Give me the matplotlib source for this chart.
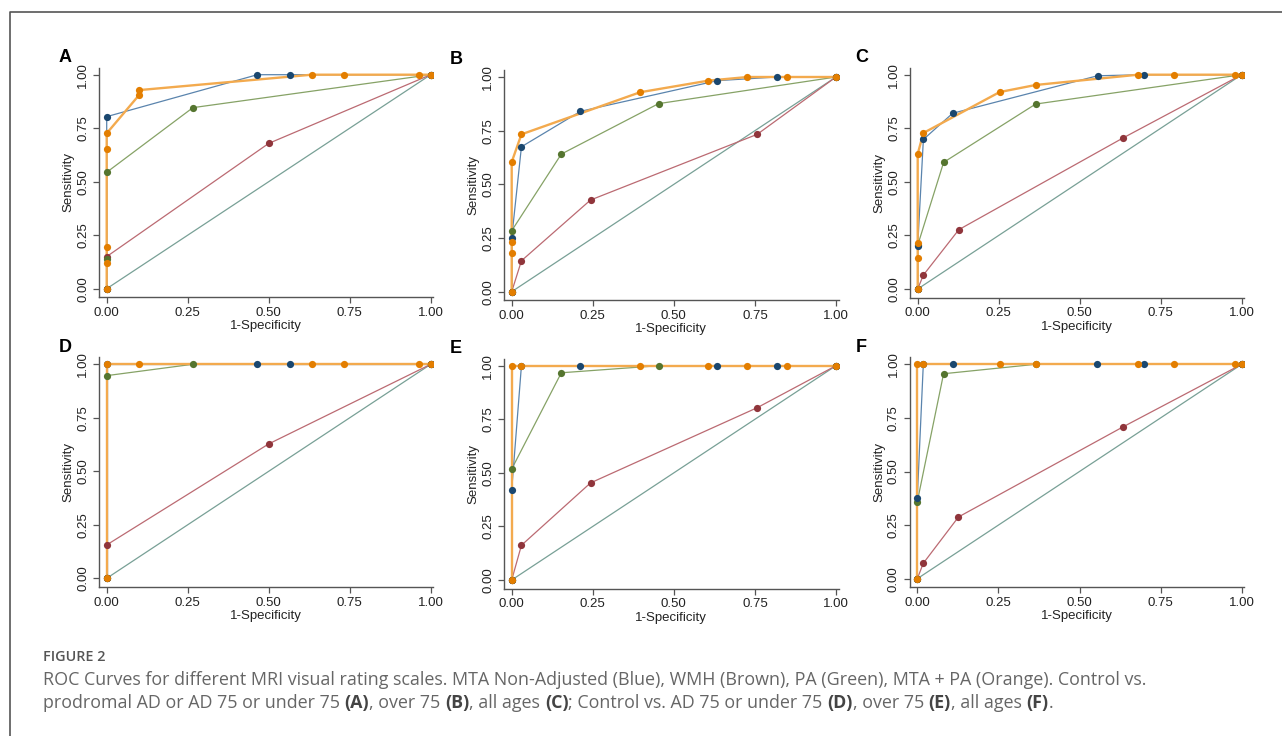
import matplotlib
matplotlib.use("Agg")
import matplotlib.pyplot as plt
from matplotlib.lines import Line2D

# ---------------- data (1-Specificity, Sensitivity) ----------------
panel_letters = ["A", "B", "C", "D", "E", "F"]
tick_values = [0.0, 0.25, 0.5, 0.75, 1.0]
tick_labels = ["0.00", "0.25", "0.50", "0.75", "1.00"]

# Panel A
A_mta_x = [0.0, 0.0, 0.465, 0.565, 1.0]
A_mta_y = [0.0, 0.804, 1.0, 1.0, 1.0]
A_wmh_x = [0.0, 0.0, 0.50, 1.0]
A_wmh_y = [0.0, 0.150, 0.679, 1.0]
A_pa_x = [0.0, 0.0, 0.0, 0.266, 1.0]
A_pa_y = [0.0, 0.139, 0.544, 0.846, 1.0]
A_mtapa_x = [0.0, 0.0, 0.0, 0.0, 0.0, 0.10, 0.10, 0.633, 0.733, 0.965, 1.0]
A_mtapa_y = [0.0, 0.120, 0.196, 0.653, 0.726, 0.905, 0.928, 1.0, 1.0, 1.0, 1.0]

# Panel B
B_mta_x = [0.0, 0.0, 0.030, 0.212, 0.634, 0.818, 1.0]
B_mta_y = [0.0, 0.250, 0.675, 0.840, 0.983, 1.0, 1.0]
B_wmh_x = [0.0, 0.030, 0.243, 0.757, 1.0]
B_wmh_y = [0.0, 0.144, 0.427, 0.733, 1.0]
B_pa_x = [0.0, 0.0, 0.153, 0.453, 1.0]
B_pa_y = [0.0, 0.284, 0.641, 0.876, 1.0]
B_mtapa_x = [0.0, 0.0, 0.0, 0.0, 0.030, 0.396, 0.606, 0.727, 0.849, 1.0]
B_mtapa_y = [0.0, 0.179, 0.231, 0.604, 0.733, 0.929, 0.983, 1.0, 1.0, 1.0]

# Panel C
C_mta_x = [0.0, 0.0, 0.0175, 0.108, 0.555, 0.698, 1.0]
C_mta_y = [0.0, 0.200, 0.698, 0.820, 0.995, 1.0, 1.0]
C_wmh_x = [0.0, 0.0175, 0.127, 0.634, 1.0]
C_wmh_y = [0.0, 0.065, 0.277, 0.705, 1.0]
C_pa_x = [0.0, 0.0, 0.080, 0.364, 1.0]
C_pa_y = [0.0, 0.204, 0.591, 0.863, 1.0]
C_mtapa_x = [0.0, 0.0, 0.0, 0.0, 0.0175, 0.253, 0.364, 0.680, 0.791, 0.980, 1.0]
C_mtapa_y = [0.0, 0.146, 0.215, 0.630, 0.728, 0.919, 0.952, 1.0, 1.0, 1.0, 1.0]

# Panel D
D_mta_x = [0.0, 0.0, 0.465, 0.565, 1.0]
D_mta_y = [0.0, 1.0, 1.0, 1.0, 1.0]
D_wmh_x = [0.0, 0.0, 0.50, 1.0]
D_wmh_y = [0.0, 0.156, 0.628, 1.0]
D_pa_x = [0.0, 0.0, 0.265, 1.0]
D_pa_y = [0.0, 0.947, 1.0, 1.0]
D_mtapa_x = [0.0, 0.0, 0.10, 0.633, 0.733, 0.965, 1.0]
D_mtapa_y = [0.0, 1.0, 1.0, 1.0, 1.0, 1.0, 1.0]

# Panel E
E_mta_x = [0.0, 0.0, 0.030, 0.212, 0.634, 0.818, 1.0]
E_mta_y = [0.0, 0.420, 1.0, 1.0, 1.0, 1.0, 1.0]
E_wmh_x = [0.0, 0.030, 0.243, 0.757, 1.0]
E_wmh_y = [0.0, 0.162, 0.453, 0.804, 1.0]
E_pa_x = [0.0, 0.0, 0.153, 0.453, 1.0]
E_pa_y = [0.0, 0.518, 0.967, 1.0, 1.0]
E_mtapa_x = [0.0, 0.0, 0.030, 0.396, 0.606, 0.727, 0.849, 1.0]
E_mtapa_y = [0.0, 1.0, 1.0, 1.0, 1.0, 1.0, 1.0, 1.0]

# Panel F
F_mta_x = [0.0, 0.0, 0.0185, 0.109, 0.555, 0.698, 1.0]
F_mta_y = [0.0, 0.378, 1.0, 1.0, 1.0, 1.0, 1.0]
F_wmh_x = [0.0, 0.0185, 0.127, 0.634, 1.0]
F_wmh_y = [0.0, 0.072, 0.288, 0.708, 1.0]
F_pa_x = [0.0, 0.0, 0.081, 0.365, 1.0]
F_pa_y = [0.0, 0.359, 0.956, 1.0, 1.0]
F_mtapa_x = [0.0, 0.0, 0.0185, 0.254, 0.365, 0.680, 0.791, 0.980, 1.0]
F_mtapa_y = [0.0, 1.0, 1.0, 1.0, 1.0, 1.0, 1.0, 1.0, 1.0]

ref_x = [0.0, 1.0]
ref_y = [0.0, 1.0]

# order of drawing: WMH, PA, MTA, MTA+PA (orange on top)
panel_series = {
    "A": [(A_wmh_x, A_wmh_y), (A_pa_x, A_pa_y), (A_mta_x, A_mta_y), (A_mtapa_x, A_mtapa_y)],
    "B": [(B_wmh_x, B_wmh_y), (B_pa_x, B_pa_y), (B_mta_x, B_mta_y), (B_mtapa_x, B_mtapa_y)],
    "C": [(C_wmh_x, C_wmh_y), (C_pa_x, C_pa_y), (C_mta_x, C_mta_y), (C_mtapa_x, C_mtapa_y)],
    "D": [(D_wmh_x, D_wmh_y), (D_pa_x, D_pa_y), (D_mta_x, D_mta_y), (D_mtapa_x, D_mtapa_y)],
    "E": [(E_wmh_x, E_wmh_y), (E_pa_x, E_pa_y), (E_mta_x, E_mta_y), (E_mtapa_x, E_mtapa_y)],
    "F": [(F_wmh_x, F_wmh_y), (F_pa_x, F_pa_y), (F_mta_x, F_mta_y), (F_mtapa_x, F_mtapa_y)],
}

caption_title = "FIGURE 2"
caption_line1 = ("ROC Curves for different MRI visual rating scales. MTA Non-Adjusted (Blue), "
                 "WMH (Brown), PA (Green), MTA + PA (Orange). Control vs.")
caption_line2 = [("prodromal AD or AD 75 or under 75 ", False), ("(A)", True), (", over 75 ", False),
                 ("(B)", True), (", all ages ", False), ("(C)", True),
                 ("; Control vs. AD 75 or under 75 ", False), ("(D)", True), (", over 75 ", False),
                 ("(E)", True), (", all ages ", False), ("(F)", True), (".", False)]

# ---------------- styling ----------------
W, H = 1282, 736
DPI = 100
marker_colors = ["#90353b", "#55752f", "#1a476f", "#e37e00"]
line_colors = ["#bb6a72", "#86a266", "#5a84ad", "#f3aa4e"]
line_widths = [0.9, 0.9, 0.9, 1.7]
ref_color = "#78a096"

XL = (-0.024, 1.008)
YL = (-0.040, 1.033)

# pixel positions of data 0 and 1 for each panel: (x0, x1, y0, y1)
panel_px = {
    "A": (106.7, 430.7, 288.7, 74.7),
    "B": (511.7, 836.0, 291.7, 77.0),
    "C": (917.7, 1241.7, 289.0, 74.7),
    "D": (106.7, 430.7, 578.3, 364.3),
    "E": (511.7, 836.0, 580.0, 365.7),
    "F": (917.3, 1241.7, 578.7, 364.3),
}

fig = plt.figure(figsize=(W / DPI, H / DPI), dpi=DPI)
fig.patch.set_facecolor("white")

tick_font = "Liberation Sans"

for letter in panel_letters:
    x0, x1, y0, y1 = panel_px[letter]
    sx = x1 - x0
    sy = y0 - y1
    left = x0 + XL[0] * sx
    right = x0 + XL[1] * sx
    bottom = y0 - YL[0] * sy
    top = y0 - YL[1] * sy
    ax = fig.add_axes([left / W, 1 - bottom / H, (right - left) / W, (bottom - top) / H])
    ax.set_xlim(*XL)
    ax.set_ylim(*YL)
    ax.plot(ref_x, ref_y, color=ref_color, lw=0.9, zorder=1)
    for i, (xs, ys) in enumerate(panel_series[letter]):
        ax.plot(xs, ys, color=line_colors[i], lw=line_widths[i], zorder=2 + i,
                solid_joinstyle="round")
        ax.plot(xs, ys, ls="none", marker="o", ms=5.2, mfc=marker_colors[i],
                mec=marker_colors[i], mew=0, zorder=10 + i)
    for s in ["top", "right"]:
        ax.spines[s].set_visible(False)
    for s in ["left", "bottom"]:
        ax.spines[s].set_color("#555555")
        ax.spines[s].set_linewidth(1.0)
    ax.set_xticks(tick_values)
    ax.set_xticklabels(tick_labels, fontsize=9.5, family=tick_font, color="#222222")
    ax.set_yticks(tick_values)
    ax.set_yticklabels(tick_labels, fontsize=9.5, family=tick_font, color="#222222",
                       rotation=90, va="center")
    ax.tick_params(axis="both", direction="out", length=4, width=0.9, color="#555555")
    ax.tick_params(axis="x", pad=3)
    ax.tick_params(axis="y", pad=3)
    ax.set_xlabel("1-Specificity", fontsize=9.5, family=tick_font, color="#222222", labelpad=1)
    ax.set_ylabel("Sensitivity", fontsize=9.5, family=tick_font, color="#222222", labelpad=2)
    ax.patch.set_alpha(0)
    # panel letter
    lx = left - 34 if letter in "AD" else left - 48
    fig.text(lx / W, 1 - (top - 10) / H, letter, fontsize=13, fontweight="bold",
             family=tick_font, ha="center", va="center", color="black")

# frame of the figure box
fig.add_artist(Line2D([10 / W, 10 / W, 1.0], [0.0, 1 - 12 / H, 1 - 12 / H],
                      transform=fig.transFigure, color="#555555", lw=1.2))

# caption
cap_font = "Open Sans"
cap_size = 12.9
fig.text(43 / W, 1 - 657 / H, caption_title, fontsize=10.4, fontweight="semibold",
         family=cap_font, color="#555555", ha="left", va="center")
fig.text(43 / W, 1 - 680 / H, caption_line1, fontsize=cap_size, family=cap_font,
         color="#666666", ha="left", va="center")

fig.canvas.draw()
renderer = fig.canvas.get_renderer()
xpos = 43.0
for piece, bold in caption_line2:
    t = fig.text(xpos / W, 1 - 703 / H, piece, fontsize=cap_size, family=cap_font,
                 fontweight="bold" if bold else "normal",
                 color="#444444" if bold else "#666666", ha="left", va="center")
    bb = t.get_window_extent(renderer=renderer)
    xpos += bb.width

fig.savefig("out.png", dpi=DPI)
